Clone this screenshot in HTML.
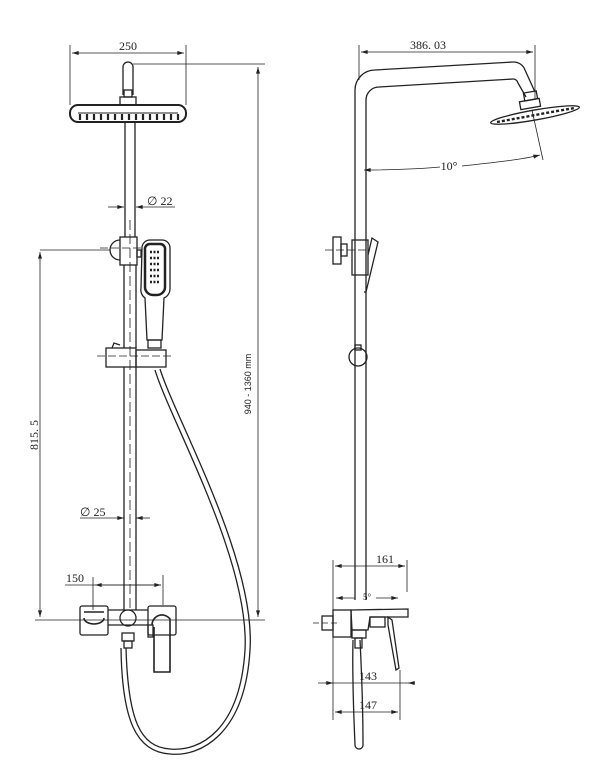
<!DOCTYPE html>
<html><head><meta charset="utf-8"><style>
html,body{margin:0;padding:0;background:#fff;}
svg{display:block;}
text{font-family:"Liberation Serif",serif;fill:#222;}
</style></head><body>
<svg width="601" height="773" viewBox="0 0 601 773" xmlns="http://www.w3.org/2000/svg">
<defs>
<marker id="a" viewBox="0 0 10 6" refX="10" refY="3" markerWidth="9" markerHeight="5" orient="auto-start-reverse"><path d="M0,0 L10,3 L0,6 z" fill="#222"/></marker>
</defs>
<g stroke="#222" fill="none" stroke-width="1.3">
<path d="M123,95 V67 a5,5 0 0 1 10,0 V95"/>
<rect x="124" y="90" width="8" height="7"/>
<rect x="120" y="97" width="16" height="8"/>
<rect x="70" y="105" width="116" height="17" rx="8" stroke-width="2"/>
<path d="M78,113 H178" stroke-width="1"/>
<g stroke-width="2.2">
<path d="M80,114v6M87,114v6M94,114v6M101,114v6M108,114v6M115,114v6M122,114v6M129,114v6M136,114v6M143,114v6M150,114v6M157,114v6M164,114v6M171,114v6M178,114v6"/>
</g>
<path d="M125,122 V237 M135,122 V237"/>
<path d="M124,265 V348 M136,265 V348 M124,367 V610 M136,367 V610"/>
<path d="M130,220 V610" stroke-width="0.8" stroke-dasharray="10,4"/>
<path d="M120,240 a10,10 0 0 0 0,20"/>
<rect x="120" y="237" width="17" height="28"/>
<rect x="137" y="250" width="4" height="7"/>
<path d="M100,248 H143" stroke-width="0.7" stroke-dasharray="8,3"/>
<path d="M142,248 a8,8 0 0 1 8,-8 h12 a8,8 0 0 1 8,8 V288 a10,10 0 0 1 -6,10 L162,340 H147 L145,298 a10,10 0 0 1 -4,-10 z"/>
<path d="M145,250 a5,5 0 0 1 5,-6 h10 a5,5 0 0 1 5,6 V287 a8,8 0 0 1 -8,8 h-4 a8,8 0 0 1 -8,-8 z" stroke-width="2.5"/>
<path d="M150,252h10M150,258h10M150,264h10M150,270h10M150,276h10M150,282h10" stroke-width="2.5" stroke-dasharray="2,1.5"/>
<rect x="148" y="340" width="13" height="8"/>
<rect x="106" y="348" width="30" height="19"/>
<rect x="136" y="350" width="30" height="17"/>
<path d="M112,348 l2,-5 l6,2" />
<path d="M97,356 H172" stroke-width="0.7" stroke-dasharray="8,3"/>
<path d="M155,370 C170,420 250,560 245,650 C240,730 200,752 170,749 C140,747 128,720 126,648" stroke-width="1.3"/>
<path d="M160,369 C176,420 256,560 250,650 C245,735 200,757 170,754 C136,752 122,720 121,648" stroke-width="1.3"/>
<rect x="80" y="606" width="28" height="29" rx="2"/>
<path d="M84,612 h20 M84,618 a10,6 0 0 0 20,0" stroke-width="1.6"/>
<rect x="148" y="606" width="28" height="29" rx="2"/>
<path d="M108,610 H148 M108,625 H148"/>
<circle cx="128" cy="618" r="8"/>
<rect x="122" y="633" width="12" height="8"/>
<rect x="124" y="641" width="8" height="7"/>
<path d="M152,625 a10,10 0 0 1 18,-6 V672 H154 V627" stroke-width="1.6"/>
<rect x="148" y="625" width="5" height="12"/>
<g stroke-width="0.8">
<path d="M70,45 V105 M186,45 V105"/>
<path d="M72,53 H184" marker-start="url(#a)" marker-end="url(#a)"/>
<path d="M133,64 H265"/>
<path d="M258,67 V617" marker-start="url(#a)" marker-end="url(#a)"/>
<path d="M108,207 H124" marker-end="url(#a)"/>
<path d="M136,207 H145 H175" marker-start="url(#a)"/>
<path d="M40,250 H110"/>
<path d="M40,252 V617" marker-start="url(#a)" marker-end="url(#a)"/>
<path d="M80,518 H124" marker-end="url(#a)"/>
<path d="M136,518 H150" marker-start="url(#a)"/>
<path d="M65,585 H161" />
<path d="M95,585 H161" marker-start="url(#a)" marker-end="url(#a)"/>
<path d="M93,577 V610 M163,575 V605"/>
<path d="M35,620 H265"/>
</g>
<path d="M355,600 V90 a20,20 0 0 1 20,-20 L513,62 a12,12 0 0 1 12,8 L535,92"/>
<path d="M366,600 V100 a13,13 0 0 1 13,-13 L513,79 a5,5 0 0 1 5,4 L526,97"/>
<rect x="524" y="92" width="13" height="8" transform="rotate(-10 530 96)"/>
<rect x="520" y="100" width="20" height="8" transform="rotate(-10 530 104)"/>
<ellipse cx="535" cy="115" rx="45" ry="5" transform="rotate(-10 535 115)"/>
<path d="M497,122 C520,118 550,112 575,108" stroke-width="2.4" stroke-dasharray="3,2"/>
<rect x="333" y="237" width="8" height="27"/>
<rect x="341" y="244" width="6" height="12"/>
<path d="M325,250 H370" stroke-width="0.7" stroke-dasharray="8,3"/>
<rect x="352" y="240" width="16" height="35"/>
<path d="M368,255 L372,238 L378,242 L366,292 L364,292" />
<rect x="355" y="345" width="6" height="5"/>
<circle cx="358" cy="357" r="9"/>
<rect x="333" y="610" width="18" height="27"/>
<rect x="322" y="616" width="11" height="14"/>
<path d="M313,623 H340" stroke-width="0.7" stroke-dasharray="6,3"/>
<path d="M351,610 L408,609 V617 H370 L368,630 H352 Z"/>
<rect x="370" y="617" width="15" height="10"/>
<path d="M388,617 L392,620 L399,668 L396,670 L388,625 Z"/>
<rect x="352" y="630" width="14" height="8"/>
<rect x="355" y="638" width="7" height="10"/>
<path d="M353,640 C352,680 354,720 355,745 a4,4 0 0 0 8,0 C363,720 362,680 360,640"/>
<g stroke-width="0.8">
<path d="M359,45 V80 M535,45 V100"/>
<path d="M361,52 H533" marker-start="url(#a)" marker-end="url(#a)"/>
<path d="M364,170 C400,170 430,168 440,167" marker-start="url(#a)"/>
<path d="M462,166 C490,163 520,160 540,155" marker-end="url(#a)"/>
<path d="M532,110 L543,160"/>
<path d="M333,560 V720 M407,560 V592"/>
<path d="M335,566 H405" marker-start="url(#a)" marker-end="url(#a)"/>
<path d="M336,598 H355"  marker-start="url(#a)"/>
<path d="M376,598 H398" marker-end="url(#a)"/>
<path d="M318,683 H410" />
<path d="M325,683 H333" marker-end="url(#a)"/>
<path d="M415,683 H408" marker-end="url(#a)"/>
<path d="M400,670 V720"/>
<path d="M335,712 H398" marker-start="url(#a)" marker-end="url(#a)"/>
</g>
</g>
<g font-size="12">
<text x="128" y="50" text-anchor="middle">250</text>
<text x="147" y="205">∅ 22</text>
<text x="80" y="516">∅ 25</text>
<text x="66" y="582">150</text>
<text x="0" y="0" transform="translate(38,435) rotate(-90)" text-anchor="middle">815. 5</text>
<text x="428" y="49" text-anchor="middle">386. 03</text>
<text x="449" y="170" text-anchor="middle">10°</text>
<text x="385" y="563" text-anchor="middle">161</text>
<text x="367" y="600" text-anchor="middle" font-size="9">5°</text>
<text x="368" y="680" text-anchor="middle">143</text>
<text x="368" y="709" text-anchor="middle">147</text>
</g>
<text x="0" y="0" transform="translate(251,384) rotate(-90)" text-anchor="middle" style="font-family:'Liberation Sans',sans-serif;font-size:9px">940 - 1360 mm</text>
</svg>
</body></html>
